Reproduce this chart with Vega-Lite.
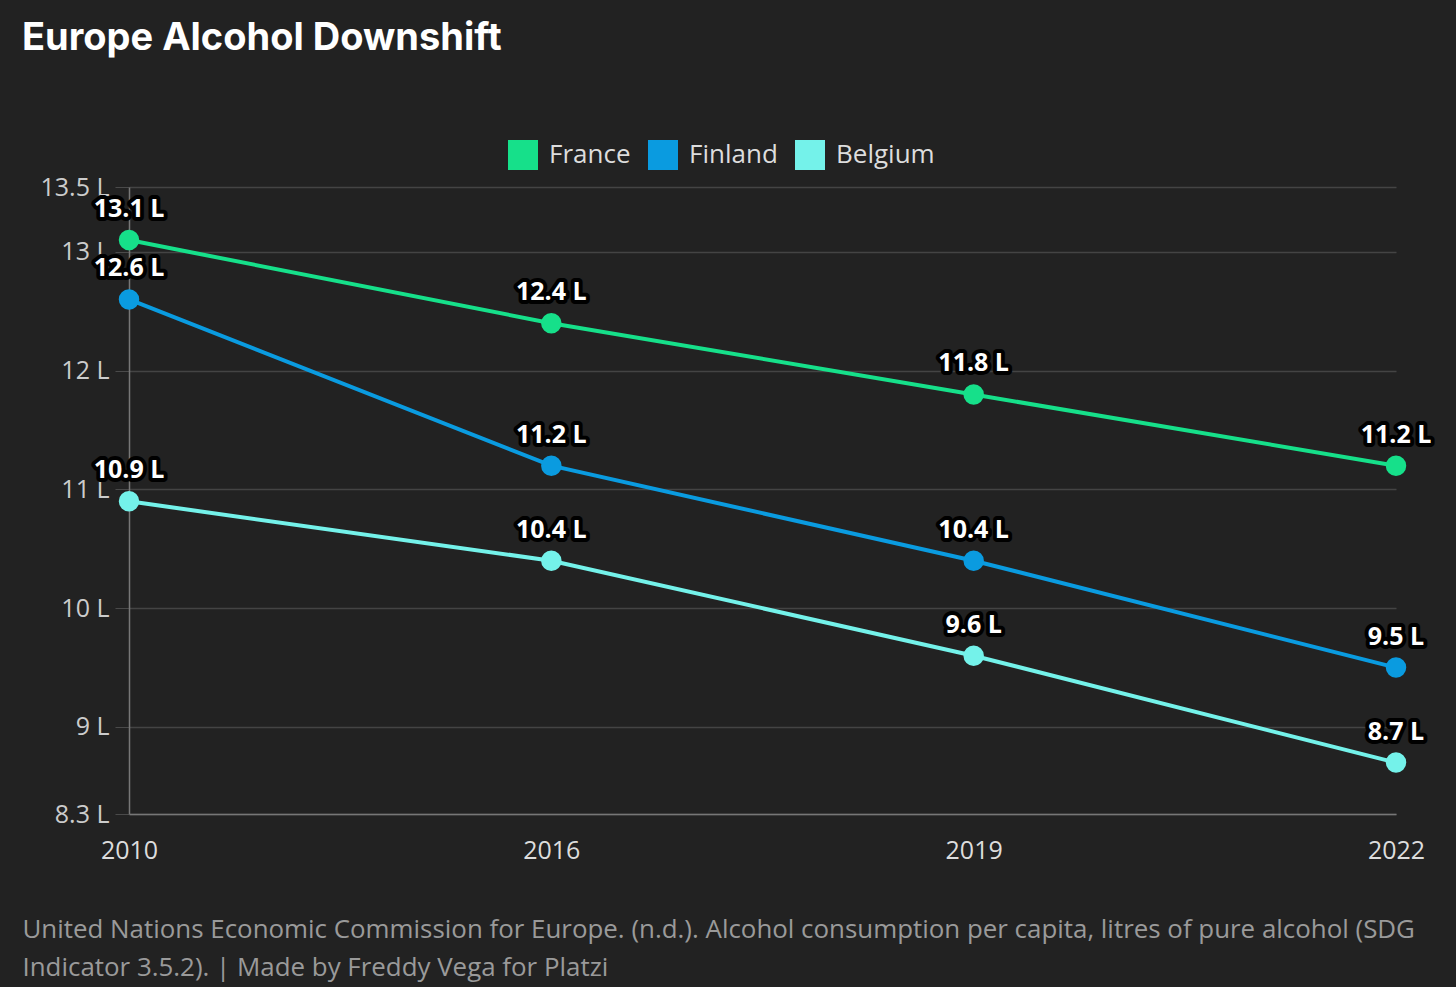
{
  "$schema": "https://vega.github.io/schema/vega-lite/v6.json",
  "autosize": {"type": "none"},
  "width": 1267,
  "height": 627,
  "padding": {"left": 129, "top": 187, "right": 60, "bottom": 173},
  "background": "#222222",
  "title": {
    "text": "Europe Alcohol Downshift",
    "anchor": "start",
    "frame": "group",
    "dx": -107,
    "offset": 52,
    "baseline": "alphabetic",
    "font": "Inter",
    "fontSize": 38,
    "fontWeight": "bold",
    "color": "#ffffff"
  },
  "config": {
    "view": {"stroke": null},
    "font": "Open Sans"
  },
  "data": {
    "values": [
      {"country": "France", "year": "2010", "value": 13.1},
      {"country": "France", "year": "2016", "value": 12.4},
      {"country": "France", "year": "2019", "value": 11.8},
      {"country": "France", "year": "2022", "value": 11.2},
      {"country": "Finland", "year": "2010", "value": 12.6},
      {"country": "Finland", "year": "2016", "value": 11.2},
      {"country": "Finland", "year": "2019", "value": 10.4},
      {"country": "Finland", "year": "2022", "value": 9.5},
      {"country": "Belgium", "year": "2010", "value": 10.9},
      {"country": "Belgium", "year": "2016", "value": 10.4},
      {"country": "Belgium", "year": "2019", "value": 9.6},
      {"country": "Belgium", "year": "2022", "value": 8.7}
    ]
  },
  "transform": [{"calculate": "datum.value + ' L'", "as": "label"}],
  "encoding": {
    "x": {
      "field": "year",
      "type": "ordinal",
      "scale": {"type": "point", "padding": 0},
      "axis": {
        "labelAngle": 0,
        "labelFontSize": 25,
        "labelColor": "#dddddd",
        "labelPadding": 24,
        "ticks": false,
        "tickSize": 0,
        "domainColor": "#777777",
        "domainWidth": 1.5,
        "grid": false,
        "title": ["United Nations Economic Commission for Europe. (n.d.). Alcohol consumption per capita, litres of pure alcohol (SDG", "Indicator 3.5.2). | Made by Freddy Vega for Platzi"],
        "titleX": -107,
        "titleY": 123,
        "titleAlign": "left",
        "titleAnchor": "start",
        "titleBaseline": "alphabetic",
        "titleFontSize": 25.9,
        "titleFontWeight": "normal",
        "titleColor": "#9a9a9a",
        "titleLineHeight": 38
      }
    },
    "y": {
      "field": "value",
      "type": "quantitative",
      "scale": {"domain": [8.267, 13.547], "nice": false, "zero": false},
      "axis": {
        "values": [8.267, 9, 10, 11, 12, 13, 13.547],
        "labelExpr": "format(datum.value, '.1~f') + ' L'",
        "labelFontSize": 25,
        "labelColor": "#cccccc",
        "labelPadding": 6,
        "tickSize": 14,
        "tickColor": "#4a4a4a",
        "gridColor": "#444444",
        "gridWidth": 1.5,
        "domainColor": "#777777",
        "domainWidth": 1.5,
        "title": null
      }
    },
    "color": {
      "field": "country",
      "type": "nominal",
      "scale": {
        "domain": ["France", "Finland", "Belgium"],
        "range": ["#16e08a", "#0a9be0", "#74f2ea"]
      },
      "legend": {
        "orient": "none",
        "direction": "horizontal",
        "legendX": 379,
        "legendY": -47,
        "title": null,
        "symbolType": "square",
        "symbolSize": 900,
        "symbolStrokeWidth": 0,
        "symbolOpacity": 1,
        "labelFontSize": 26,
        "labelColor": "#dddddd",
        "labelOffset": 11,
        "columnPadding": 17
      }
    }
  },
  "layer": [
    {"mark": {"type": "line", "strokeWidth": 4}},
    {"mark": {"type": "point", "filled": true, "size": 420, "opacity": 1}},
    {
      "mark": {
        "type": "text",
        "dy": -31,
        "baseline": "middle",
        "fontSize": 25,
        "fontWeight": "bold",
        "stroke": "#000000",
        "strokeWidth": 8,
        "strokeJoin": "round",
        "fill": "#000000"
      },
      "encoding": {"text": {"field": "label"}, "color": {"value": "#000000"}}
    },
    {
      "mark": {
        "type": "text",
        "dy": -31,
        "baseline": "middle",
        "fontSize": 25,
        "fontWeight": "bold",
        "fill": "#ffffff"
      },
      "encoding": {"text": {"field": "label"}, "color": {"value": "#ffffff"}}
    }
  ]
}
